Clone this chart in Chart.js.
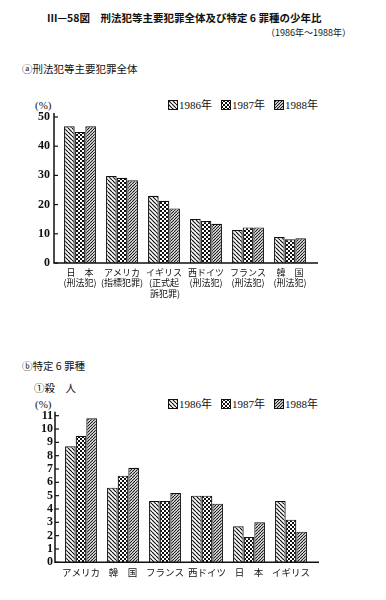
<!DOCTYPE html>
<html>
<head>
<meta charset="utf-8">
<script src="https://cdn.jsdelivr.net/npm/chart.js@4.4.0/dist/chart.umd.min.js"></script>
<style>
body{margin:0;background:#fff;overflow:hidden;width:386px;height:600px;position:relative;font-family:"Noto Sans CJK JP",sans-serif;color:#111}
.t{position:absolute;white-space:nowrap}
.box{position:absolute;left:0;width:386px}
.sw{position:absolute;width:10px;height:10px;box-sizing:border-box}
</style>
</head>
<body>
<div class="t" style="left:47px;top:12px;font-size:10.5px;line-height:11px;font-weight:bold">Ⅲ—58図　刑法犯等主要犯罪全体及び特定 6 罪種の少年比</div>
<div class="t" style="left:266px;top:28px;font-size:9px;line-height:10px">（1986年～1988年）</div>
<div class="t" style="left:22px;top:63px;font-size:10.5px;line-height:11px">ⓐ刑法犯等主要犯罪全体</div>
<div class="t" style="left:35px;top:99px;font-size:11px;line-height:12px;font-family:'Liberation Serif',serif">(%)</div>
<div id="legA"></div>
<div class="box" style="top:100px;height:210px"><canvas id="chartA"></canvas></div>

<div class="t" style="left:22px;top:360px;font-size:10.5px;line-height:11px">ⓑ特定 6 罪種</div>
<div class="t" style="left:34px;top:382px;font-size:10.5px;line-height:11px">①殺　人</div>
<div class="t" style="left:35px;top:398px;font-size:11px;line-height:12px;font-family:'Liberation Serif',serif">(%)</div>
<div id="legB"></div>
<div class="box" style="top:400px;height:200px"><canvas id="chartB"></canvas></div>

<script>
// years (series names)
const years = ['1986年', '1987年', '1988年'];

// ⓐ 刑法犯等主要犯罪全体
const catsA = [['日　本', '(刑法犯)'], ['アメリカ', '(指標犯罪)'], ['イギリス', '(正式起', ' 訴犯罪)'],
  ['西ドイツ', '(刑法犯)'], ['フランス', '(刑法犯)'], ['韓　国', '(刑法犯)']];
const a1986 = [46.8, 29.8, 23.0, 15.1, 11.3, 8.9];
const a1987 = [44.9, 29.2, 21.3, 14.4, 12.2, 8.1];
const a1988 = [46.8, 28.3, 18.7, 13.4, 12.2, 8.5];
const ticksA = [0, 10, 20, 30, 40, 50];

// ⓑ 特定6罪種 ① 殺人
const catsB = ['アメリカ', '韓　国', 'フランス', '西ドイツ', '日　本', 'イギリス'];
const b1986 = [8.7, 5.6, 4.6, 5.0, 2.7, 4.6];
const b1987 = [9.5, 6.5, 4.6, 5.0, 1.9, 3.2];
const b1988 = [10.8, 7.1, 5.2, 4.4, 3.0, 2.3];
const ticksB = [0, 1, 2, 3, 4, 5, 6, 7, 8, 9, 10, 11];

// hatch patterns
function tile(n, draw) {
  const c = document.createElement('canvas');
  c.width = n; c.height = n;
  const g = c.getContext('2d');
  g.fillStyle = '#fff'; g.fillRect(0, 0, n, n);
  draw(g, n);
  return c;
}
const tiles = [
  tile(4, (g, n) => { // \\\
    g.strokeStyle = '#111'; g.lineWidth = 1.2;
    for (const o of [-n, 0, n]) { g.beginPath(); g.moveTo(o, 0); g.lineTo(o + n, n); g.stroke(); }
  }),
  tile(4, (g) => { // checker
    g.fillStyle = '#111'; g.fillRect(0, 0, 4, 4);
    g.fillStyle = '#fff'; g.fillRect(0, 0, 2, 2); g.fillRect(2, 2, 2, 2);
  }),
  tile(3, (g, n) => { // fine ///
    g.strokeStyle = '#111'; g.lineWidth = 1.1;
    for (const o of [-n, 0, n]) { g.beginPath(); g.moveTo(o, n); g.lineTo(o + n, 0); g.stroke(); }
  })
];
const pat = i => document.createElement('canvas').getContext('2d').createPattern(tiles[i], 'repeat');

function legend(id, top) {
  const xs = [168, 221, 274];
  let h = '';
  years.forEach((y, i) => {
    h += `<canvas class="sw" id="${id}${i}" width="10" height="10" style="left:${xs[i]}px;top:${top - 5}px"></canvas>`;
    h += `<div class="t" style="left:${xs[i] + 11}px;top:${top - 6}px;font-size:11px;line-height:12px;font-family:'Liberation Serif','Noto Sans CJK JP',serif">${y}</div>`;
  });
  document.getElementById(id).innerHTML = h;
  years.forEach((y, i) => {
    const g = document.getElementById(id + i).getContext('2d');
    g.fillStyle = g.createPattern(tiles[i], 'repeat');
    g.fillRect(0, 0, 10, 10);
    g.strokeStyle = '#111'; g.lineWidth = 1; g.strokeRect(0.5, 0.5, 9, 9);
  });
}
legend('legA', 105);
legend('legB', 404);

const axesPlugin = {
  id: 'axesPlugin',
  afterDatasetsDraw(chart) {
    const ctx = chart.ctx, a = chart.chartArea, y = chart.scales.y;
    const x0 = a.left - 5;
    ctx.save();
    ctx.strokeStyle = '#111'; ctx.lineWidth = 1.5;
    ctx.beginPath();
    ctx.moveTo(x0, a.top - 4); ctx.lineTo(x0, a.bottom);
    ctx.lineTo(a.right + 7, a.bottom);
    ctx.stroke();
    ctx.lineWidth = 1.2;
    y.ticks.forEach(t => {
      const py = y.getPixelForValue(t.value);
      ctx.beginPath(); ctx.moveTo(x0, py); ctx.lineTo(x0 + 4, py); ctx.stroke();
    });
    ctx.restore();
  }
};

function makeChart(id, cats, series, max, step, opt) {
  return new Chart(document.getElementById(id), {
    type: 'bar',
    data: {
      labels: cats,
      datasets: series.map((d, i) => ({
        label: years[i],
        data: d,
        backgroundColor: pat(i),
        borderColor: '#111',
        borderWidth: 1.2,
        categoryPercentage: 0.76,
        barPercentage: 1.0
      }))
    },
    options: {
      responsive: true,
      maintainAspectRatio: false,
      animation: false,
      layout: { padding: { left: 0, right: opt.right, top: opt.top, bottom: 0 } },
      plugins: { legend: { display: false }, tooltip: { enabled: false } },
      scales: {
        x: {
          grid: { display: false, drawTicks: false },
          border: { display: false },
          ticks: {
            color: '#111', padding: 4.5, maxRotation: 0, autoSkip: false,
            font: { family: 'Noto Sans CJK JP', size: opt.xfs, lineHeight: 1.15 }
          },
          afterFit: s => { s.height = opt.xh; }
        },
        y: {
          min: 0, max: max,
          grid: { display: false, drawTicks: false },
          border: { display: false },
          ticks: {
            stepSize: step, autoSkip: false, color: '#111', padding: opt.ypad,
            font: { family: 'Liberation Serif', size: 12, weight: 'bold' }
          },
          afterFit: s => { s.width = opt.left; }
        }
      }
    },
    plugins: [axesPlugin]
  });
}

makeChart('chartA', catsA, [a1986, a1987, a1988], ticksA[ticksA.length - 1], 10,
  { left: 59, right: 75, top: 17, xh: 47, ypad: 9, xfs: 9 });
makeChart('chartB', catsB, [b1986, b1987, b1988], ticksB[ticksB.length - 1], 1,
  { left: 60, right: 74, top: 15.7, xh: 37.7, ypad: 7, xfs: 9.5 });
</script>
</body>
</html>
